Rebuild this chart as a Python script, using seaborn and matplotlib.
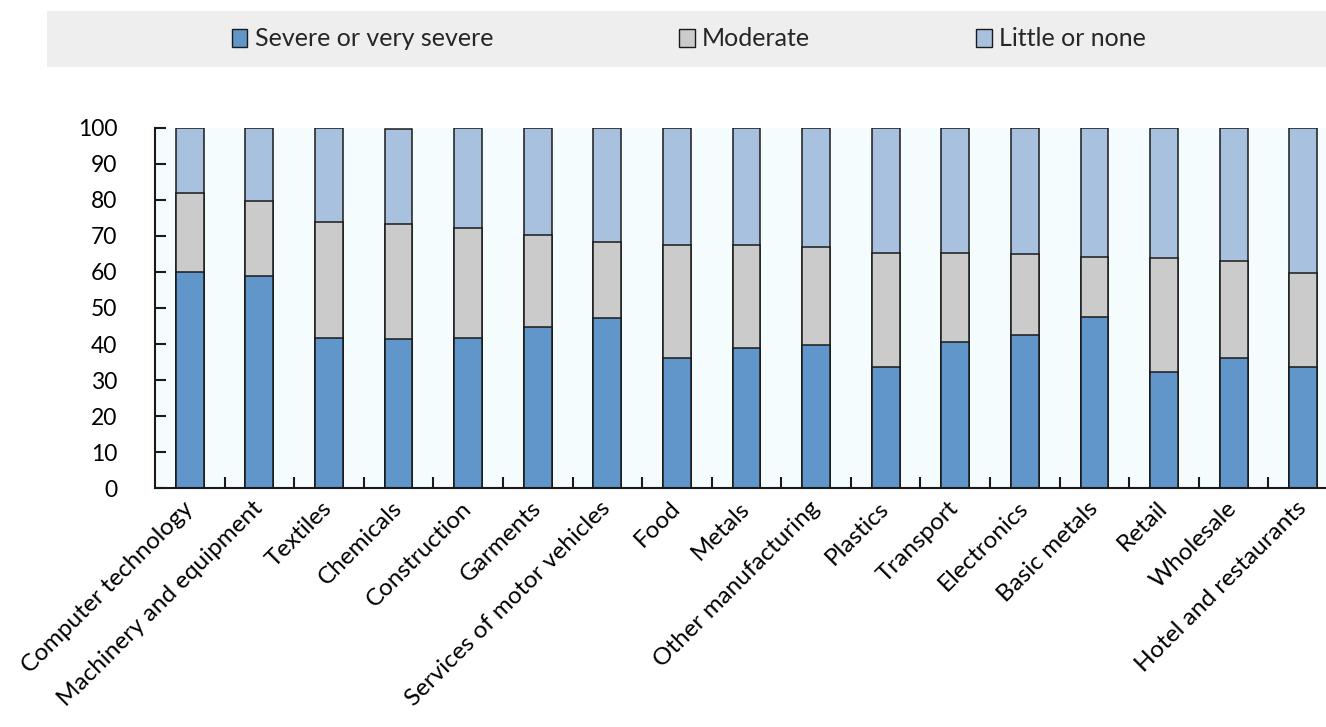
import matplotlib
matplotlib.use("Agg")
import matplotlib.pyplot as plt
from matplotlib.patches import Patch, Rectangle
import numpy as np
import pandas as pd
import seaborn as sns

sectors = [
    "Computer technology", "Machinery and equipment", "Textiles", "Chemicals",
    "Construction", "Garments", "Services of motor vehicles", "Food", "Metals",
    "Other manufacturing", "Plastics", "Transport", "Electronics", "Basic metals",
    "Retail", "Wholesale", "Hotel and restaurants",
]
severe = [59.9, 58.8, 41.8, 41.3, 41.8, 44.7, 47.1, 36.0, 38.9, 39.8, 33.6,
          40.6, 42.5, 47.6, 32.2, 36.0, 33.6]
moderate = [21.9, 20.9, 32.0, 32.0, 30.3, 25.6, 21.1, 31.5, 28.6, 27.2, 31.7,
            24.7, 22.5, 16.5, 31.7, 27.1, 26.1]
little = [18.2, 20.3, 26.2, 26.4, 27.9, 29.7, 31.8, 32.5, 32.5, 33.0, 34.7,
          34.7, 35.0, 35.9, 36.1, 36.9, 40.3]
series_names = ["Severe or very severe", "Moderate", "Little or none"]
colors = ["#6096C9", "#CBCBCB", "#A8C1DF"]
yticks = list(range(0, 101, 10))

sns.set_theme(style="white")
plt.rcParams["font.family"] = ["Lato", "DejaVu Sans"]

df = pd.DataFrame({"sector": sectors, "severe": severe,
                   "moderate": moderate, "little": little})
df["c_sev"] = df["severe"]
df["c_mod"] = df["severe"] + df["moderate"]
df["c_all"] = df["c_mod"] + df["little"]

W, H = 1326, 727
fig = plt.figure(figsize=(W / 100, H / 100), dpi=100)
fig.patch.set_facecolor("white")

# legend band
fig.patches.append(Rectangle((47 / W, 1 - 67 / H), 1 - 47 / W, 56 / H,
                             transform=fig.transFigure, facecolor="#EEEEEE",
                             edgecolor="none", zorder=0))

ax = fig.add_axes([155 / W, 1 - 488.3 / H, (1338 - 155) / W, (488.3 - 127.7) / H])
ax.set_facecolor("#F4FCFE")

# stacked bars drawn as cumulative layers, tallest first
for col, color in zip(["c_all", "c_mod", "c_sev"], colors[::-1]):
    sns.barplot(data=df, x="sector", y=col, color=color, width=0.4,
                edgecolor="#1a1a1a", linewidth=1.1, ax=ax, saturation=1,
                errorbar=None)

ax.set_xlim(-0.5, len(sectors) - 0.5)
ax.set_ylim(0, 100)
ax.set_yticks(yticks)
ax.set_yticklabels([str(t) for t in yticks], fontsize=16.5)
ax.set_xlabel("")
ax.set_ylabel("")

for s in ["top", "right"]:
    ax.spines[s].set_visible(False)
for s in ["left", "bottom"]:
    ax.spines[s].set_color("#1a1a1a")
    ax.spines[s].set_linewidth(1.5)

ax.tick_params(axis="y", direction="in", length=8, width=1.5, color="#1a1a1a",
               left=True, pad=27, labelcolor="black")
# minor ticks sit between the categories
ax.set_xticks(np.arange(len(sectors)))
ax.set_xticks(np.arange(len(sectors)) + 0.5, minor=True)
ax.tick_params(axis="x", which="major", length=0, pad=12)
ax.tick_params(axis="x", which="minor", direction="in", length=8, width=1.5,
               color="#1a1a1a", bottom=True)
ax.set_xticklabels(sectors, rotation=45, ha="right", rotation_mode="anchor",
                   fontsize=17.5, color="black")
for lbl in ax.get_xticklabels():
    lbl.set_va("center")

handles = [Patch(facecolor=c, edgecolor="#1a1a1a", linewidth=1) for c in colors]
xs = [232, 679, 976]
for h, name, x in zip(handles, series_names, xs):
    fig.legend([h], [name], loc="center left",
               bbox_to_anchor=(x / W, 1 - 39 / H), frameon=False,
               fontsize=18, handlelength=0.62, handleheight=0.75,
               handletextpad=0.3, borderpad=0, borderaxespad=0)

fig.savefig("out.png", dpi=100)
